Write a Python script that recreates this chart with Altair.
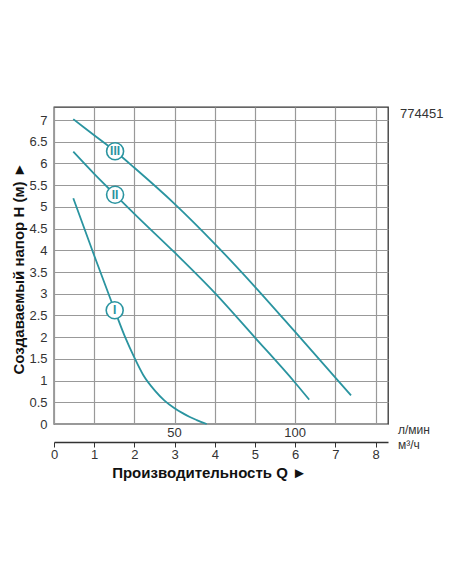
import pandas as pd
import altair as alt

# кривые насоса: расход Q (м³/ч) -> напор H (м)
q_1 = [0.48, 1.0, 1.51, 1.77, 2.0, 2.22, 2.51, 2.75, 2.99, 3.2, 3.38, 3.55, 3.8]
h_1 = [5.2, 3.88, 2.62, 2.0, 1.53, 1.13, 0.77, 0.54, 0.37, 0.25, 0.16, 0.09, 0.0]

q_2 = [0.48, 1.0, 1.52, 2.0, 3.0, 4.0, 5.0, 6.0, 6.35]
h_2 = [6.27, 5.76, 5.28, 4.84, 3.95, 3.02, 1.99, 0.95, 0.56]

q_3 = [0.48, 1.0, 1.52, 2.0, 3.0, 4.0, 5.0, 6.0, 7.0, 7.39]
h_3 = [7.02, 6.65, 6.28, 5.9, 5.07, 4.15, 3.16, 2.12, 1.07, 0.66]

# римские метки скоростей
marks = ['I', 'II', 'III']
marks_q = [1.51, 1.52, 1.52]
marks_h = [2.62, 5.28, 6.28]

# вторая шкала расхода (л/мин)
lmin_labels = [50, 100]

x_ticks = [0, 1, 2, 3, 4, 5, 6, 7, 8]
y_ticks = [0, 0.5, 1, 1.5, 2, 2.5, 3, 3.5, 4, 4.5, 5, 5.5, 6, 6.5, 7]

TEAL = '#2a94a0'
FONT = 'Liberation Sans'
W, H = 334, 317

curves = pd.concat([
    pd.DataFrame({'ser': 'I', 'q': q_1, 'h': h_1}),
    pd.DataFrame({'ser': 'II', 'q': q_2, 'h': h_2}),
    pd.DataFrame({'ser': 'III', 'q': q_3, 'h': h_3}),
])
df_marks = pd.DataFrame({'txt': marks, 'q': marks_q, 'h': marks_h})
df_lmin = pd.DataFrame({'txt': [str(v) for v in lmin_labels],
                        'q': [v * 60 / 1000 for v in lmin_labels],
                        'h': [0 for v in lmin_labels]})

xs = alt.Scale(domain=[0, 8.31], nice=False, zero=False)
ys = alt.Scale(domain=[0, 7.3], nice=False)

# одна и та же ось во всех слоях, чтобы они сливались
x_enc = alt.X('q:Q', scale=xs,
              axis=alt.Axis(values=x_ticks, format='d', offset=18, grid=True, gridColor='#999',
                            gridWidth=1.2, domainColor='#333', domainWidth=1.3, tickColor='#333',
                            tickSize=5, labelPadding=1, labelFlush=False, labelFontSize=13,
                            labelColor='#333', labelFont=FONT,
                            title='Производительность Q ►', titleFont=FONT, titleFontSize=15,
                            titleFontWeight='bold', titleColor='#111', titleX=155, titleY=30,
                            titleBaseline='middle'))
y_enc = alt.Y('h:Q', scale=ys,
              axis=alt.Axis(values=y_ticks, format='~g', grid=True, gridColor='#999', gridWidth=1.2,
                            ticks=False, domain=False, labelPadding=7, labelFontSize=13,
                            labelColor='#333', labelFont=FONT,
                            title='Создаваемый напор Н (м) ►', titleFont=FONT, titleFontSize=15,
                            titleFontWeight='bold', titleColor='#111', titleX=-36, titleY=161,
                            titleBaseline='middle'))

lines = alt.Chart(curves).mark_line(color=TEAL, strokeWidth=1.8, interpolate='monotone').encode(
    x=x_enc, y=y_enc, detail='ser:N'
)

circles = alt.Chart(df_marks).mark_point(shape='circle', size=289, filled=False, fill='white',
                                         fillOpacity=1, color=TEAL, strokeWidth=1.6, opacity=1).encode(
    x=x_enc, y=y_enc
)

numerals = alt.Chart(df_marks).mark_text(color=TEAL, font=FONT, fontSize=12, fontWeight='bold').encode(
    x=x_enc, y=y_enc, text='txt:N'
)

lmin = alt.Chart(df_lmin).mark_text(color='#333', font=FONT, fontSize=13, dy=9, baseline='middle').encode(
    x=x_enc, y=y_enc, text='txt:N'
)

code = alt.Chart(pd.DataFrame({'t': ['774451']})).mark_text(
    color='#333', font=FONT, fontSize=13, align='left', baseline='middle').encode(
    text='t:N', x=alt.value(346), y=alt.value(7))

unit_a = alt.Chart(pd.DataFrame({'t': ['л/мин']})).mark_text(
    color='#333', font=FONT, fontSize=12, align='left', baseline='middle').encode(
    text='t:N', x=alt.value(344), y=alt.value(323))

unit_b = alt.Chart(pd.DataFrame({'t': ['м³/ч']})).mark_text(
    color='#333', font=FONT, fontSize=12, align='left', baseline='middle').encode(
    text='t:N', x=alt.value(344), y=alt.value(338))

chart = alt.layer(lines, circles, numerals, lmin, code, unit_a, unit_b).properties(
    width=W, height=H,
    autosize=alt.AutoSizeParams(type='none'),
    padding={'left': 46, 'top': 99, 'right': 56, 'bottom': 60},
    background='white'
).configure_view(stroke='#333', strokeWidth=1.3)

chart.save("out.html", embed_options={"renderer": "svg", "actions": False})
